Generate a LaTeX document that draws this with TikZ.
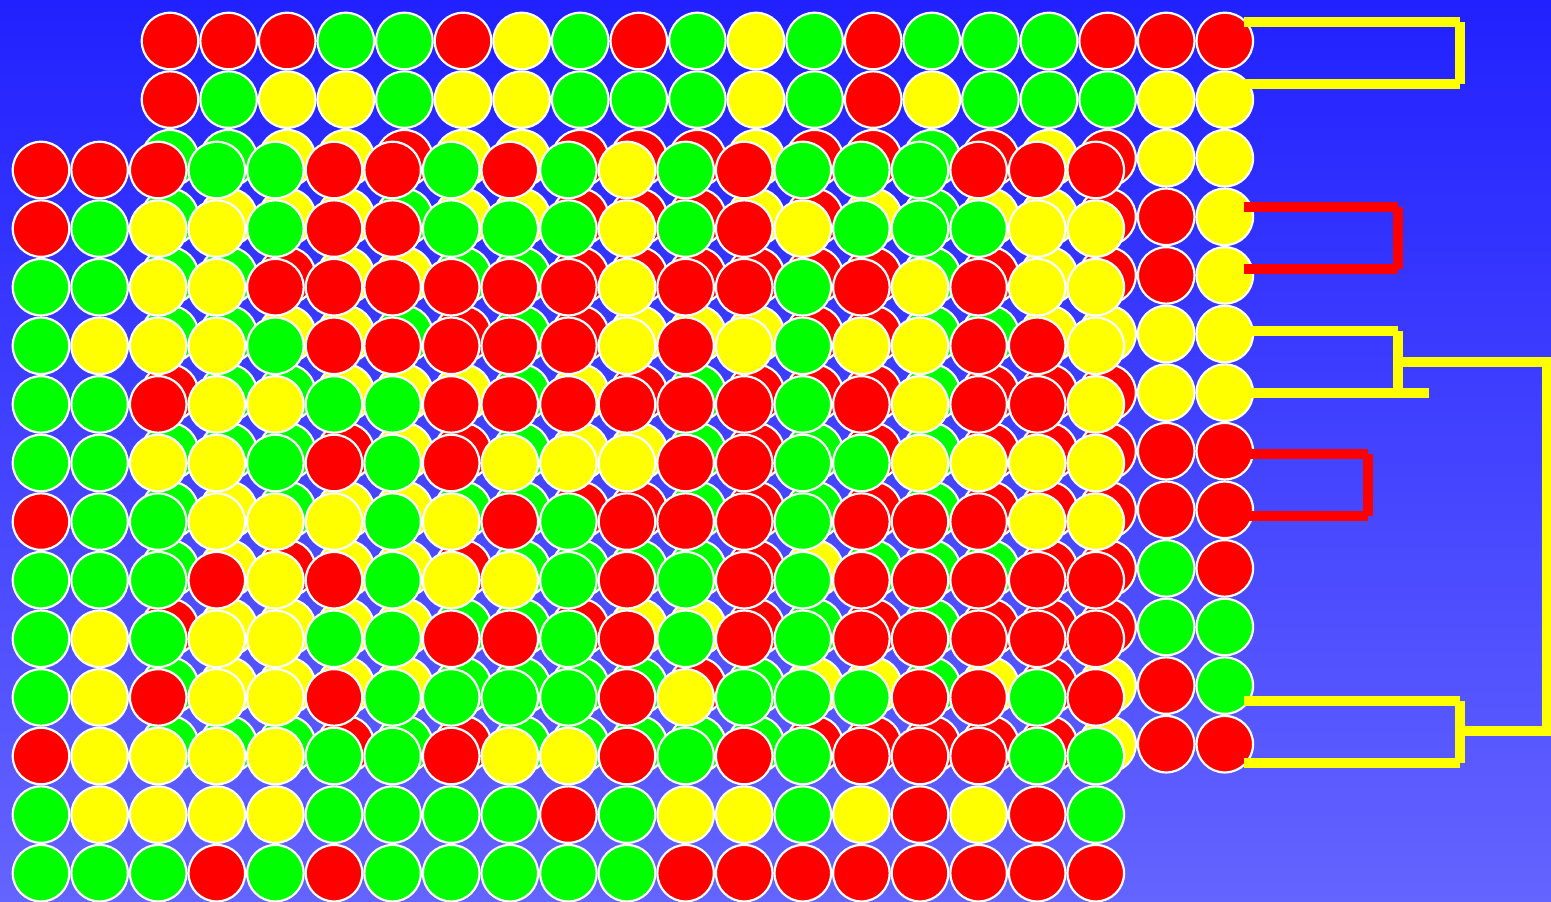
\documentclass[tikz,border=0pt]{standalone}
\definecolor{R}{RGB}{255,0,0}
\definecolor{G}{RGB}{0,255,0}
\definecolor{Y}{RGB}{255,255,0}
\definecolor{bgtop}{RGB}{33,33,255}
\definecolor{bgbot}{RGB}{100,100,255}
\tikzset{
  ball/.style={circle, draw=white, line width=2.2pt, minimum size=56.5pt, inner sep=0pt},
  bar/.style={line width=10.5pt, line cap=butt},
}
\begin{document}
\begin{tikzpicture}[x=1pt,y=-1pt]
\useasboundingbox (0,0) rectangle (1551,902);
\shade[top color=bgtop, bottom color=bgbot] (0,0) rectangle (1551,902);
% back grid
\foreach \row [count=\r from 0] in {
 {R,R,R,G,G,R,Y,G,R,G,Y,G,R,G,G,G,R,R,R},
 {R,G,Y,Y,G,Y,Y,G,G,G,Y,G,R,Y,G,G,G,Y,Y},
 {G,G,Y,Y,R,Y,Y,R,R,R,Y,R,R,G,R,Y,R,Y,Y},
 {G,Y,Y,Y,G,Y,Y,R,R,R,Y,R,Y,G,Y,Y,R,R,Y},
 {G,G,R,Y,Y,G,G,R,R,R,R,R,R,G,R,Y,R,R,Y},
 {G,G,Y,Y,G,R,G,R,Y,Y,Y,R,R,G,G,Y,Y,Y,Y},
 {R,G,G,Y,Y,Y,G,Y,R,G,R,R,R,G,R,R,R,Y,Y},
 {G,G,G,R,Y,R,G,Y,Y,G,R,G,R,G,R,R,R,R,R},
 {G,Y,G,Y,Y,G,G,R,R,G,R,G,R,G,R,R,R,R,R},
 {G,Y,R,Y,Y,R,G,G,G,G,R,Y,G,G,G,R,R,G,R},
 {R,Y,Y,Y,Y,G,G,R,Y,Y,R,G,R,G,R,R,R,G,G},
 {G,Y,Y,Y,Y,G,G,G,G,R,G,Y,Y,G,Y,R,Y,R,G},
 {G,G,G,R,G,R,G,G,G,G,G,R,R,R,R,R,Y,R,R}} {
  \foreach \c [count=\k from 0] in \row {
    \node[ball, fill=\c] (b-\k-\r) at ({170+58.6*\k},{41+58.6*\r}) {};
  }
}
% front grid
\foreach \row [count=\r from 0] in {
 {R,R,R,G,G,R,R,G,R,G,Y,G,R,G,G,G,R,R,R},
 {R,G,Y,Y,G,R,R,G,G,G,Y,G,R,Y,G,G,G,Y,Y},
 {G,G,Y,Y,R,R,R,R,R,R,Y,R,R,G,R,Y,R,Y,Y},
 {G,Y,Y,Y,G,R,R,R,R,R,Y,R,Y,G,Y,Y,R,R,Y},
 {G,G,R,Y,Y,G,G,R,R,R,R,R,R,G,R,Y,R,R,Y},
 {G,G,Y,Y,G,R,G,R,Y,Y,Y,R,R,G,G,Y,Y,Y,Y},
 {R,G,G,Y,Y,Y,G,Y,R,G,R,R,R,G,R,R,R,Y,Y},
 {G,G,G,R,Y,R,G,Y,Y,G,R,G,R,G,R,R,R,R,R},
 {G,Y,G,Y,Y,G,G,R,R,G,R,G,R,G,R,R,R,R,R},
 {G,Y,R,Y,Y,R,G,G,G,G,R,Y,G,G,G,R,R,G,R},
 {R,Y,Y,Y,Y,G,G,R,Y,Y,R,G,R,G,R,R,R,G,G},
 {G,Y,Y,Y,Y,G,G,G,G,R,G,Y,Y,G,Y,R,Y,R,G},
 {G,G,G,R,G,R,G,G,G,G,G,R,R,R,R,R,R,R,R}} {
  \foreach \c [count=\k from 0] in \row {
    \node[ball, fill=\c] (f-\k-\r) at ({41+58.6*\k},{170+58.6*\r}) {};
  }
}
% dendrogram leaves and joints
\foreach \n/\y in {0/22,1/84,3/207,4/269,5/331,6/393,7/454,8/516,11/701,12/763} {
  \coordinate (L\n) at (1244,\y);
}
\coordinate (J01a) at (1460,22);  \coordinate (J01b) at (1460,84);
\coordinate (J34a) at (1398,207); \coordinate (J34b) at (1398,269);
\coordinate (J56a) at (1398,331); \coordinate (J56b) at (1398,393);
\coordinate (J56e) at (1429,393); \coordinate (J56m) at (1398,362);
\coordinate (J78a) at (1368,454); \coordinate (J78b) at (1368,516);
\coordinate (JCa) at (1460,701); \coordinate (JCb) at (1460,763);
\coordinate (JCm) at (1460,731);
\coordinate (TopR) at (1547,362); \coordinate (BotR) at (1547,731);
% yellow bracket rows 0-1
\draw[bar, Y] (L0) -- (J01a); \draw[bar, Y] (L1) -- (J01b); \draw[bar, Y] (J01a) -- (J01b);
% red bracket rows 3-4
\draw[bar, R] (L3) -- (J34a); \draw[bar, R] (L4) -- (J34b); \draw[bar, R] (J34a) -- (J34b);
% yellow bracket rows 5-6
\draw[bar, Y] (L5) -- (J56a); \draw[bar, Y] (L6) -- (J56e); \draw[bar, Y] (J56a) -- (J56b);
% red bracket rows 7-8
\draw[bar, R] (L7) -- (J78a); \draw[bar, R] (L8) -- (J78b); \draw[bar, R] (J78a) -- (J78b);
% yellow bracket rows 11-12
\draw[bar, Y] (L11) -- (JCa); \draw[bar, Y] (L12) -- (JCb); \draw[bar, Y] (JCa) -- (JCb);
% joining connector
\draw[bar, Y, line join=miter] (J56m) -- (TopR) -- (BotR) -- (JCm);
\end{tikzpicture}
\end{document}
